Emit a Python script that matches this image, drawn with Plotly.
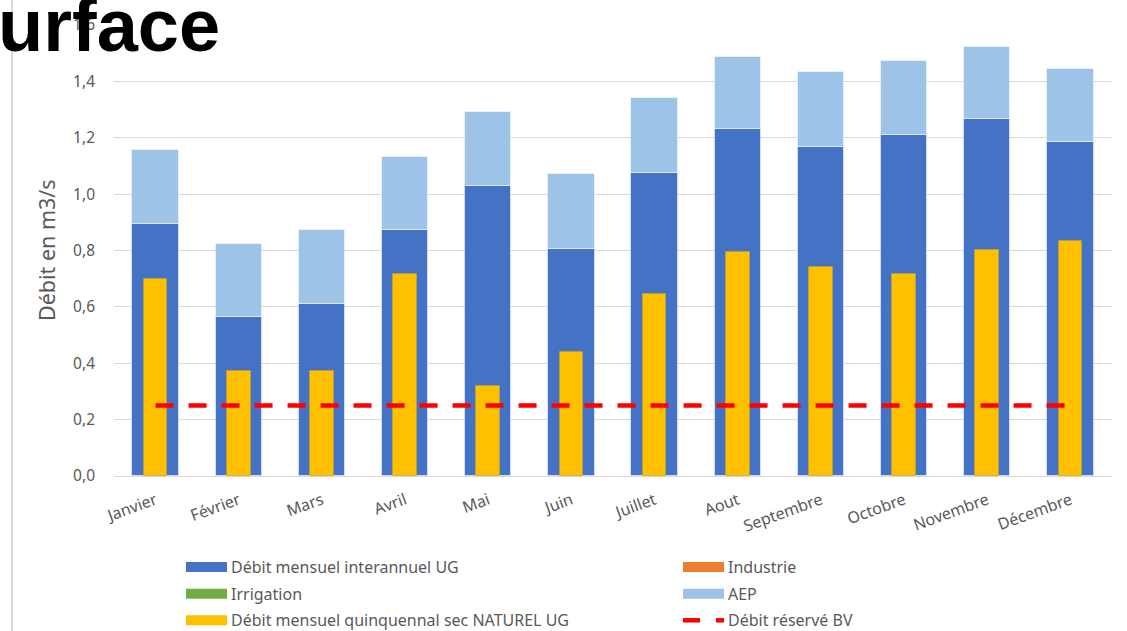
import plotly.graph_objects as go

months = ["Janvier", "Février", "Mars", "Avril", "Mai", "Juin", "Juillet",
          "Aout", "Septembre", "Octobre", "Novembre", "Décembre"]
debit_interannuel = [0.894, 0.565, 0.611, 0.873, 1.030, 0.806, 1.076, 1.232, 1.168, 1.211, 1.268, 1.186]
industrie = [0]*12
irrigation = [0]*12
aep = [0.263, 0.259, 0.263, 0.259, 0.263, 0.266, 0.265, 0.256, 0.264, 0.263, 0.255, 0.259]
quinquennal_sec = [0.699, 0.374, 0.374, 0.718, 0.321, 0.440, 0.646, 0.793, 0.741, 0.716, 0.803, 0.834]
debit_reserve = [0.25]*12

C_DARK = "#4472C4"
C_ORANGE = "#ED7D31"
C_GREEN = "#70AD47"
C_LIGHT = "#9DC3E6"
C_YELLOW = "#FFC000"
C_RED = "#FF0000"
FONT = "Noto Sans"
GREY = "#595959"

W, H = 1127, 631
ML, MR, MT, MB = 114, 15, 25, 155
PW, PH = W - ML - MR, H - MT - MB

def px(x):
    return (x - ML) / PW

def py(y):
    return (H - MB - y) / PH

base_ind = debit_interannuel
base_irr = [a + b for a, b in zip(base_ind, industrie)]
base_aep = [a + b for a, b in zip(base_irr, irrigation)]

fig = go.Figure()
edge = dict(color="rgba(255,255,255,0.5)", width=1)
fig.add_trace(go.Bar(x=months, y=debit_interannuel, name="Débit mensuel interannuel UG",
                     marker=dict(color=C_DARK, line=edge), width=0.557, showlegend=False))
fig.add_trace(go.Bar(x=months, y=industrie, base=base_ind, name="Industrie",
                     marker=dict(color=C_ORANGE, line=dict(width=0)), width=0.557, showlegend=False))
fig.add_trace(go.Bar(x=months, y=irrigation, base=base_irr, name="Irrigation",
                     marker=dict(color=C_GREEN, line=dict(width=0)), width=0.557, showlegend=False))
fig.add_trace(go.Bar(x=months, y=aep, base=base_aep, name="AEP",
                     marker=dict(color=C_LIGHT, line=edge), width=0.557, showlegend=False))
fig.add_trace(go.Bar(x=months, y=quinquennal_sec, name="Débit mensuel quinquennal sec NATUREL UG",
                     marker=dict(color=C_YELLOW, line=dict(color="rgba(200,160,40,0.6)", width=1)),
                     width=0.285, showlegend=False))
fig.add_trace(go.Scatter(x=months, y=debit_reserve, mode="lines", name="Débit réservé BV",
                         line=dict(color=C_RED, width=4.5, dash="18px,15px"), showlegend=False))

# custom legend
legend_items = [
    ("Débit mensuel interannuel UG", C_DARK, 186, 567, "bar"),
    ("Industrie", C_ORANGE, 683, 567, "bar"),
    ("Irrigation", C_GREEN, 186, 593.7, "bar"),
    ("AEP", C_LIGHT, 683, 593.7, "bar"),
    ("Débit mensuel quinquennal sec NATUREL UG", C_YELLOW, 186, 620.3, "bar"),
    ("Débit réservé BV", C_RED, 683, 620.3, "line"),
]
shapes = []
annotations = []
for label, col, x0, yc, kind in legend_items:
    if kind == "bar":
        shapes.append(dict(type="rect", xref="paper", yref="paper",
                           x0=px(x0), x1=px(x0 + 41), y0=py(yc - 5), y1=py(yc + 5),
                           fillcolor=col, line=dict(width=0)))
    else:
        for a, b in [(x0, x0 + 17), (x0 + 33, x0 + 41)]:
            shapes.append(dict(type="line", xref="paper", yref="paper",
                               x0=px(a), x1=px(b), y0=py(yc), y1=py(yc),
                               line=dict(color=col, width=4.5)))
    annotations.append(dict(text=label, xref="paper", yref="paper", x=px(x0 + 43), y=py(yc),
                            xanchor="left", yanchor="middle", showarrow=False,
                            font=dict(family=FONT, size=16, color=GREY)))

# left slide border line
shapes.append(dict(type="line", xref="paper", yref="paper", x0=px(12), x1=px(12),
                   y0=py(H), y1=py(0), line=dict(color="#D9D9D9", width=2), layer="below"))

# y axis title
annotations.append(dict(text="Débit en m3/s", xref="paper", yref="paper", x=px(46), y=py(250),
                        xanchor="center", yanchor="middle", textangle=-90, showarrow=False,
                        font=dict(family=FONT, size=21.5, color=GREY)))
# clipped slide title
annotations.append(dict(text="<b>urface</b>", xref="paper", yref="paper", x=px(-4), y=py(26),
                        xanchor="left", yanchor="middle", showarrow=False,
                        font=dict(family="Liberation Sans", size=74, color="#000000")))

fig.update_layout(
    width=W, height=H,
    margin=dict(l=ML, r=MR, t=MT, b=MB, autoexpand=False),
    barmode="overlay",
    bargap=0,
    plot_bgcolor="white", paper_bgcolor="white",
    separators=", ",
    font=dict(family=FONT, color=GREY),
    shapes=shapes, annotations=annotations,
    showlegend=False,
    xaxis=dict(showgrid=False, showline=True, linecolor="#D9D9D9", linewidth=1,
               tickangle=-20, tickfont=dict(size=16, color=GREY), ticks="",
               ticklabelstandoff=8, range=[-0.5, 11.5]),
    yaxis=dict(range=[0, 1.6], dtick=0.2, tickformat=".1f", showgrid=True,
               gridcolor="#D9D9D9", gridwidth=1, zeroline=False, showline=False,
               tickfont=dict(size=15.5, color=GREY), ticklabelstandoff=18),
)

fig.write_html("out.html")
